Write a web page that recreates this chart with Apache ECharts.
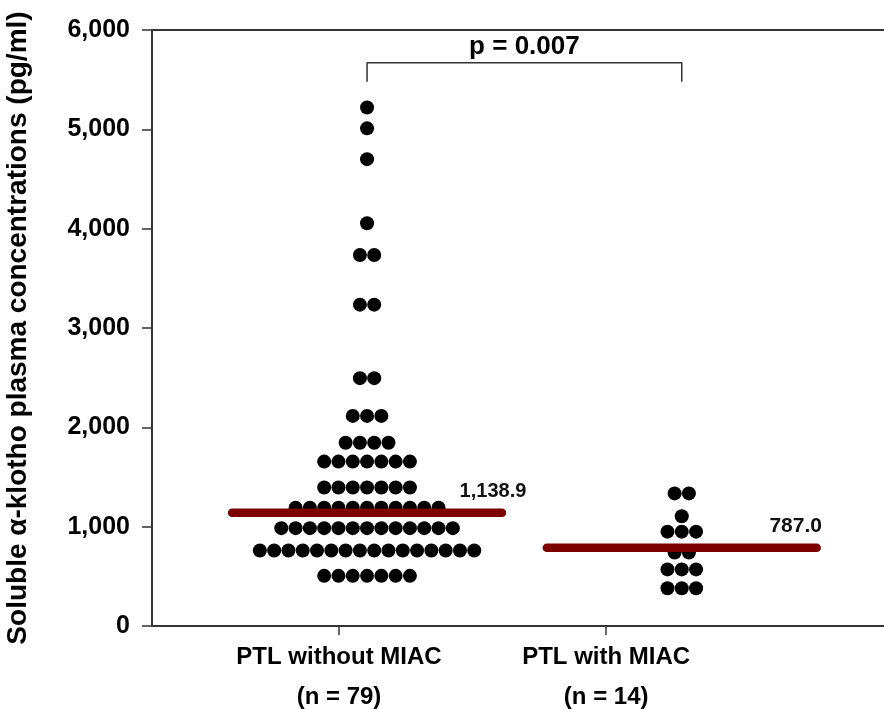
<!DOCTYPE html>
<html>
<head>
<meta charset="utf-8">
<script src="https://cdn.jsdelivr.net/npm/echarts@6/dist/echarts.min.js"></script>
<style>html,body{margin:0;padding:0;background:#fff}#c{width:884px;height:709px}</style>
</head>
<body>
<div id="c"></div>
<script>
// ---- data ----
const categories = ['PTL without MIAC\n(n = 79)', 'PTL with MIAC\n(n = 14)'];
const withoutMIAC = [5220, 5010, 4700, 4055, 3735, 3735, 3235, 3235, 2495, 2495,
  2115, 2115, 2115, 1845, 1845, 1845, 1845,
  1655, 1655, 1655, 1655, 1655, 1655, 1655,
  1395, 1395, 1395, 1395, 1395, 1395, 1395,
  1190, 1190, 1190, 1190, 1190, 1190, 1190, 1190, 1190, 1190, 1190,
  985, 985, 985, 985, 985, 985, 985, 985, 985, 985, 985, 985, 985,
  760, 760, 760, 760, 760, 760, 760, 760, 760, 760, 760, 760, 760, 760, 760, 760,
  505, 505, 505, 505, 505, 505, 505];
const withMIAC = [1335, 1335, 1105, 950, 950, 950, 740, 740, 570, 570, 570, 380, 380, 380];
const medians = [1138.9, 787.0];
const medianLabels = ['1,138.9', '787.0'];
const pText = 'p = 0.007';
const yTicks = [0, 1000, 2000, 3000, 4000, 5000, 6000];

// ---- layout (style) ----
const tickPos = [1, 2];            // positions of the category ticks on the x scale
const groupCenter = [1.105, 2.283]; // dot-cluster centres
const dotStep = 0.0535;             // horizontal step between dots in a row
const medianHalf = 0.505;
const bracketTop = 5670, bracketBottom = 5480;
const FONT = '"Liberation Sans", Arial, sans-serif';
const INK = '#000';

function swarm(values, center) {
  const rows = new Map();
  values.forEach(v => rows.set(v, (rows.get(v) || 0) + 1));
  const pts = [];
  rows.forEach((n, v) => {
    for (let i = 0; i < n; i++) pts.push([center + (i - (n - 1) / 2) * dotStep, v]);
  });
  return pts;
}

const series = [];
[withoutMIAC, withMIAC].forEach((vals, g) => {
  series.push({
    type: 'scatter', data: swarm(vals, groupCenter[g]), symbol: 'circle', symbolSize: 14,
    itemStyle: { color: INK, opacity: 1 }, z: 2, silent: true
  });
});
medians.forEach((m, g) => {
  series.push({
    type: 'line', data: [[groupCenter[g] - medianHalf, m], [groupCenter[g] + medianHalf, m]],
    symbol: 'none', lineStyle: { color: '#7d0000', width: 8.5, cap: 'round', opacity: 1 }, z: 5, silent: true
  });
  series.push({
    type: 'scatter', data: [[groupCenter[g] + medianHalf, m]], symbolSize: 0, z: 6, silent: true,
    itemStyle: { opacity: 1 },
    label: {
      show: true, position: 'top', formatter: medianLabels[g], offset: g === 0 ? [-9, -6] : [-21, -6],
      fontFamily: FONT, fontWeight: 'bold', fontSize: g === 0 ? 20 : 21, color: '#111', opacity: 1
    }
  });
});
series.push({
  type: 'line', data: [[groupCenter[0], bracketBottom], [groupCenter[0], bracketTop],
    [groupCenter[1], bracketTop], [groupCenter[1], bracketBottom]],
  symbol: 'none', lineStyle: { color: '#333', width: 1.5 }, silent: true
});
series.push({
  type: 'scatter', data: [[(groupCenter[0] + groupCenter[1]) / 2, bracketTop]], symbolSize: 0, silent: true,
  itemStyle: { opacity: 1 },
  label: { show: true, position: 'top', distance: 3, formatter: pText,
    fontFamily: FONT, fontWeight: 'bold', fontSize: 26, color: INK, opacity: 1 }
});

const chart = echarts.init(document.getElementById('c'), null, { renderer: 'canvas' });
chart.setOption({
  animation: false,
  backgroundColor: '#fff',
  grid: { left: 152, right: 0, top: 30, bottom: 83, containLabel: false, outerBoundsMode: 'none' },
  xAxis: [{
    type: 'value', min: 0.3, max: 3.04, position: 'bottom',
    splitLine: { show: false },
    axisLine: { show: true, lineStyle: { color: '#333', width: 2 } },
    axisTick: { show: true, customValues: tickPos, length: 9, lineStyle: { color: '#333', width: 1.5 } },
    axisLabel: {
      show: true, customValues: tickPos, margin: 11,
      formatter: v => categories[Math.round(v) - 1] || '',
      fontFamily: FONT, fontWeight: 'bold', fontSize: 24, lineHeight: 40, color: INK
    }
  }, {
    type: 'value', min: 0.3, max: 3.04, position: 'top',
    splitLine: { show: false }, axisTick: { show: false }, axisLabel: { show: false },
    axisLine: { show: true, lineStyle: { color: '#333', width: 2 } }
  }],
  yAxis: {
    type: 'value', min: yTicks[0], max: yTicks[yTicks.length - 1], interval: 1000,
    splitLine: { show: false },
    axisLine: { show: true, lineStyle: { color: '#333', width: 2 } },
    axisTick: { show: true, length: 10, lineStyle: { color: '#333', width: 1.5 } },
    axisLabel: {
      margin: 22, fontFamily: FONT, fontWeight: 'bold', fontSize: 25, color: INK,
      formatter: v => v.toLocaleString('en-US')
    },
    name: 'Soluble \u03b1-klotho plasma concentrations (pg/ml)',
    nameLocation: 'middle', nameGap: 120, nameRotate: 90,
    nameTextStyle: { fontFamily: FONT, fontWeight: 'bold', fontSize: 28, color: INK }
  },
  series: series
});
</script>
</body>
</html>
